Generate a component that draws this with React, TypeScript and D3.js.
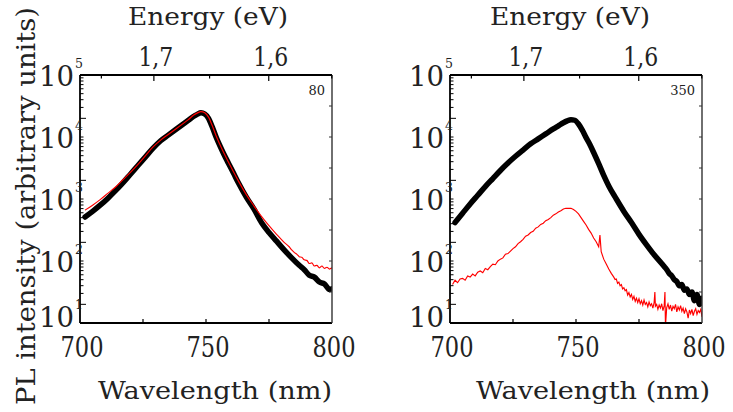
import React from 'react';
import * as d3 from 'd3';

const W = 733;
const H = 412;
const xDomain = [700, 800];
const yDomain = [10, 1e5];
const xTickValues = [700, 750, 800];
const xInnerTicks = [725, 750, 775];
const energyMajor = [1.7, 1.6];
const energyMajorLabels = ['1,7', '1,6'];
const energyMinor = [1.75, 1.65, 1.55];
const decadeExponents = [5, 4, 3, 2, 1];
const panelLabels = ['80', '350'];

// left panel (80)
const leftBlackWl = [702,705,708,711,714,717,720,723,726,729,732,735,738,741,743,745,746.5,748,749.5,751,752.5,754,755.5,757,759,761,763,766,769,772,775,778,781,784,787,789,791,793,795,797,799,800];
const leftBlackLogI = [2.71,2.80,2.90,3.01,3.13,3.26,3.40,3.54,3.68,3.82,3.94,4.03,4.12,4.21,4.27,4.33,4.365,4.39,4.37,4.30,4.16,4.00,3.86,3.73,3.57,3.41,3.25,3.03,2.84,2.62,2.46,2.32,2.18,2.05,1.93,1.86,1.77,1.74,1.66,1.63,1.54,1.55];
const leftRedWl = [702,705,708,711,714,717,720,723,726,729,732,735,738,741,743,745,746.5,748,749.5,751,752.5,754,755.5,757,759,761,763,766,769,772,775,778,781,783,784,785,786,787,788,789,790,791,792,793,794,795,796,797,798,799,800];
const leftRedLogI = [2.82,2.90,2.99,3.09,3.19,3.31,3.43,3.56,3.70,3.84,3.95,4.04,4.13,4.22,4.28,4.35,4.385,4.41,4.39,4.32,4.18,4.02,3.88,3.75,3.59,3.43,3.28,3.07,2.89,2.72,2.57,2.43,2.30,2.23,2.18,2.14,2.11,2.07,2.06,2.02,2.01,1.96,1.97,1.92,1.93,1.89,1.92,1.88,1.90,1.87,1.89];

// right panel (350)
const rightBlackWl = [702,705,708,711,714,717,720,723,726,729,732,735,738,741,743,745,746.5,748,749.5,751,752.5,754,755.5,757,759,761,763,766,769,772,775,778,781,784,785,786,787,788,789,790,791,792,793,794,795,796,797,798,799,800];
const rightBlackLogI = [2.62,2.77,2.92,3.06,3.20,3.33,3.46,3.58,3.69,3.79,3.89,3.97,4.05,4.13,4.18,4.23,4.26,4.28,4.27,4.21,4.11,3.99,3.88,3.75,3.57,3.38,3.21,3.00,2.80,2.62,2.43,2.26,2.10,1.96,1.91,1.86,1.80,1.76,1.70,1.67,1.60,1.62,1.53,1.55,1.46,1.50,1.36,1.46,1.30,1.40];
const rightRedWl = [701,702,703,704,705,706,707,708,709,710,711,712,713,714,715,716,717,718,719,720,721,722,723,724,725,726,727,728,729,730,731,732,733,734,735,736,737,738,739,740,741,742,743,744,745,746,747,748,749,750,751,752,753,754,755,756,757,758,759,759.5,760,761,762,763,764,765,765.5,766,766.5,767,767.5,768,768.5,769,769.5,770,770.5,771,771.5,772,772.5,773,773.5,774,774.5,775,775.5,776,776.5,777,777.5,778,778.5,779,779.5,780,780.5,781,781.3,781.5,782,782.5,783,783.5,784,784.5,785,785.3,785.5,786,786.5,787,787.5,788,788.5,789,789.5,790,790.5,791,791.5,792,792.5,793,793.5,794,794.5,795,795.5,796,796.5,797,797.5,798,798.5,799,799.5,800];
const rightRedLogI = [1.62,1.69,1.65,1.71,1.72,1.69,1.76,1.74,1.79,1.76,1.82,1.84,1.81,1.88,1.86,1.91,1.95,1.94,2.00,2.03,2.05,2.11,2.12,2.16,2.20,2.23,2.28,2.31,2.35,2.40,2.42,2.46,2.48,2.53,2.55,2.59,2.61,2.65,2.67,2.70,2.74,2.76,2.79,2.81,2.84,2.85,2.85,2.85,2.83,2.80,2.76,2.70,2.64,2.58,2.51,2.45,2.37,2.31,2.23,2.42,2.15,2.03,1.95,1.87,1.80,1.74,1.70,1.71,1.64,1.66,1.60,1.62,1.55,1.57,1.52,1.54,1.45,1.49,1.42,1.46,1.38,1.43,1.35,1.40,1.33,1.39,1.31,1.36,1.29,1.37,1.30,1.33,1.26,1.34,1.28,1.31,1.24,1.33,1.50,1.27,1.30,1.22,1.29,1.24,1.31,1.20,1.28,1.50,0.95,1.25,1.31,1.22,1.29,1.19,1.27,1.23,1.30,1.18,1.26,1.21,1.28,1.19,1.24,1.15,1.23,1.18,1.08,1.21,1.15,1.22,1.12,1.19,1.23,1.14,1.20,1.17,1.22,1.10];

const FONT = "'DejaVu Serif', 'Liberation Serif', serif";
const TOP = 75;
const BOTTOM = 323;

function zipSeries(wl: number[], logI: number[]) {
  return wl.map((w, i) => ({ wl: w, v: Math.pow(10, logI[i]) }));
}

type PanelProps = {
  x0: number;
  x1: number;
  black: { wl: number; v: number }[];
  red: { wl: number; v: number }[];
  label: string;
  id: string;
  redCurve: any;
  energyOffset: number;
  wlOffset: number;
};

function Panel({ x0, x1, black, red, label, id, redCurve, energyOffset, wlOffset }: PanelProps) {
  const x = d3.scaleLinear().domain(xDomain).range([x0, x1]);
  const y = d3.scaleLog().domain(yDomain).range([BOTTOM, TOP]);
  const lineBlack = d3
    .line<{ wl: number; v: number }>()
    .x((d) => x(d.wl))
    .y((d) => y(d.v))
    .curve(d3.curveMonotoneX);
  const lineRed = d3
    .line<{ wl: number; v: number }>()
    .x((d) => x(d.wl))
    .y((d) => y(d.v))
    .curve(redCurve);

  const minor: { v: number; long: boolean }[] = [];
  for (let e = 1; e < 5; e++) {
    for (let k = 1; k <= 9; k++) {
      minor.push({ v: k * Math.pow(10, e), long: k === 2 });
    }
  }
  const halfDecades: number[] = [];
  for (let e = 1; e < 5; e++) {
    halfDecades.push(Math.pow(10, e + 0.5));
    if (e > 1) halfDecades.push(Math.pow(10, e));
  }

  const eToX = (E: number) => x(1239.84 / E);

  return (
    <g>
      <defs>
        <clipPath id={id}>
          <rect x={x0} y={TOP} width={x1 - x0} height={BOTTOM - TOP} />
        </clipPath>
      </defs>
      <g clipPath={`url(#${id})`}>
        <path d={lineBlack(black) || ''} fill="none" stroke="#000" strokeWidth={5.5} strokeLinejoin="round" strokeLinecap="round" />
        <path d={lineRed(red) || ''} fill="none" stroke="#ff0000" strokeWidth={1.15} />
      </g>
      <line x1={x0} x2={x1} y1={TOP} y2={TOP} stroke="#000" strokeWidth={2} />
      <line x1={x0} x2={x1} y1={BOTTOM} y2={BOTTOM} stroke="#000" strokeWidth={2} />
      <line x1={x0} x2={x0} y1={TOP} y2={BOTTOM} stroke="#000" strokeWidth={1.8} />
      <line x1={x1} x2={x1} y1={TOP} y2={BOTTOM} stroke="#333" strokeWidth={1.4} />
      {minor.map((t, i) => (
        <line key={'m' + i} x1={x0} x2={x0 + (t.long ? 6 : 3.5)} y1={y(t.v)} y2={y(t.v)} stroke="#000" strokeWidth={1} />
      ))}
      {halfDecades.map((v, i) => (
        <line key={'r' + i} x1={x1} x2={x1 - 3} y1={y(v)} y2={y(v)} stroke="#333" strokeWidth={1} />
      ))}
      {xInnerTicks.map((t) => (
        <line key={'b' + t} x1={x(t)} x2={x(t)} y1={BOTTOM} y2={BOTTOM - 4} stroke="#000" strokeWidth={1.2} />
      ))}
      {energyMajor.map((E) => (
        <line key={'te' + E} x1={eToX(E)} x2={eToX(E)} y1={TOP} y2={TOP + 6} stroke="#000" strokeWidth={1.2} />
      ))}
      {energyMinor.map((E) => (
        <line key={'tm' + E} x1={eToX(E)} x2={eToX(E)} y1={TOP} y2={TOP + 3.5} stroke="#000" strokeWidth={1.2} />
      ))}
      {energyMajor.map((E, i) => (
        <text key={'el' + E} x={eToX(E) + 2} y={66} textAnchor="middle" fontFamily={FONT} fontSize={26} textLength={35} lengthAdjust="spacingAndGlyphs" fill="#222">
          {energyMajorLabels[i]}
        </text>
      ))}
      <text x={(x0 + x1) / 2 + energyOffset} y={25} textAnchor="middle" fontFamily={FONT} fontSize={25} textLength={160} lengthAdjust="spacingAndGlyphs" fill="#222">
        Energy (eV)
      </text>
      {xTickValues.map((t) => (
        <text key={'xl' + t} x={x(t) + 2} y={357} textAnchor="middle" fontFamily={FONT} fontSize={27} textLength={43} lengthAdjust="spacingAndGlyphs" fill="#222">
          {t}
        </text>
      ))}
      <text x={(x0 + x1) / 2 + wlOffset} y={399} textAnchor="middle" fontFamily={FONT} fontSize={24} textLength={234} lengthAdjust="spacingAndGlyphs" fill="#222">
        Wavelength (nm)
      </text>
      {decadeExponents.map((e) => {
        const yy = y(Math.pow(10, e));
        const base = Math.min(yy + 11, 327);
        return (
          <g key={'yl' + e}>
            <text x={x0 - 6} y={base} textAnchor="end" fontFamily={FONT} fontSize={27} textLength={35} lengthAdjust="spacingAndGlyphs" fill="#222">
              10
            </text>
            <text x={x0 - 5} y={base - 18} textAnchor="start" fontFamily={FONT} fontSize={12.5} fill="#222">
              {e}
            </text>
          </g>
        );
      })}
      <text x={x1 - 7} y={95} textAnchor="end" fontFamily={FONT} fontSize={13} fill="#222">
        {label}
      </text>
    </g>
  );
}

export default function App() {
  const lb = zipSeries(leftBlackWl, leftBlackLogI);
  const lr = zipSeries(leftRedWl, leftRedLogI);
  const rb = zipSeries(rightBlackWl, rightBlackLogI);
  const rr = zipSeries(rightRedWl, rightRedLogI);
  return (
    <svg width={W} height={H} viewBox={`0 0 ${W} ${H}`} style={{ position: 'absolute', left: 0, top: 0, background: '#fff' }}>
      <rect x={0} y={0} width={W} height={H} fill="#fff" />
      <Panel x0={80} x1={332} black={lb} red={lr} label={panelLabels[0]} id="clipL" redCurve={d3.curveMonotoneX} energyOffset={2} wlOffset={9} />
      <Panel x0={450} x1={702} black={rb} red={rr} label={panelLabels[1]} id="clipR" redCurve={d3.curveLinear} energyOffset={-6} wlOffset={17} />
      <text
        transform="translate(35,206) rotate(-90)"
        textAnchor="middle"
        fontFamily={FONT}
        fontSize={26}
        textLength={398}
        lengthAdjust="spacingAndGlyphs"
        fill="#222"
      >
        PL intensity (arbitrary units)
      </text>
    </svg>
  );
}
